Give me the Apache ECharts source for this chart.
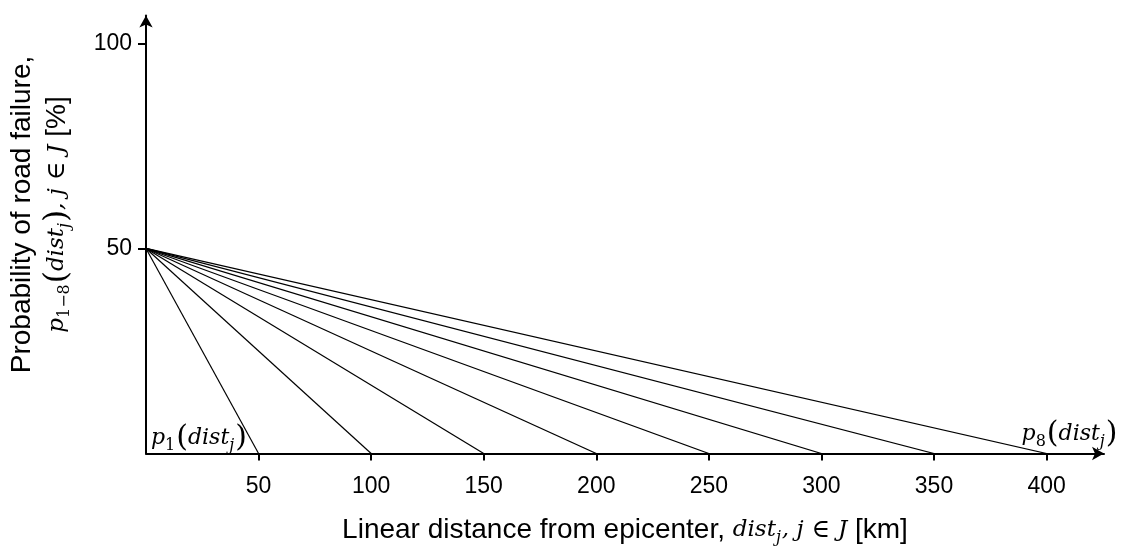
<!DOCTYPE html>
<html>
<head>
<meta charset="utf-8">
<script src="https://cdn.jsdelivr.net/npm/echarts@6/dist/echarts.min.js"></script>
<style>
  html, body { margin: 0; padding: 0; background: #fff; }
  #chart { width: 1121px; height: 547px; }
</style>
</head>
<body>
<div id="chart"></div>
<script>
// Distance (km) at which each failure-probability curve p1..p8 reaches zero
const zeroDistances = [50, 100, 150, 200, 250, 300, 350, 400];
// Probability of failure at the epicenter (%)
const probAtEpicenter = 50;
// Tick values
const xTickValues = [50, 100, 150, 200, 250, 300, 350, 400];
const yTickValues = [50, 100];
// Curve name labels, placed at the first and last curve's end
const firstCurveIndex = 1;
const lastCurveIndex = 8;

const SANS = 'Liberation Sans, Arial, sans-serif';
const SERIF = 'DejaVu Serif, serif';

// Rich-text styles: plain sans text, italic math symbols, lowered subscripts, tall parentheses
const mathRich = {
  s:   { fontFamily: SANS, fontSize: 28, color: '#000' },
  m:   { fontFamily: SERIF, fontStyle: 'italic', fontSize: 23, color: '#000' },
  op:  { fontFamily: SERIF, fontSize: 25, color: '#000' },
  sub: { fontFamily: SERIF, fontSize: 16, color: '#000', padding: [14, 1, 0, 0] },
  subi:{ fontFamily: SERIF, fontStyle: 'italic', fontSize: 16, color: '#000', padding: [14, 1, 0, 0] },
  par: { fontFamily: SERIF, fontSize: 31, color: '#000' }
};

// Curve labels use a slightly smaller math size
const labelRich = {
  m:   { fontFamily: SERIF, fontStyle: 'italic', fontSize: 22, color: '#000' },
  sub: { fontFamily: SERIF, fontSize: 16, color: '#000', padding: [14, 1, 0, 0] },
  subi:{ fontFamily: SERIF, fontStyle: 'italic', fontSize: 16, color: '#000', padding: [14, 1, 0, 0] },
  par: { fontFamily: SERIF, fontSize: 30, color: '#000' }
};

function curveLabel(k) {
  return '{m|p}{sub|' + k + '}{par|(}{m|dist}{subi|j}{par|)}';
}

const lineSeries = zeroDistances.map((d, i) => ({
  name: 'p' + (i + 1),
  type: 'line',
  data: [[0, probAtEpicenter], [d, 0]],
  symbol: 'none',
  silent: true,
  lineStyle: { color: '#000', width: 1.2 }
}));

const labelSeries = {
  type: 'scatter',
  symbolSize: 0,
  silent: true,
  data: [
    { value: [0, 0], label: { formatter: curveLabel(firstCurveIndex), position: 'right', align: 'left', verticalAlign: 'bottom', offset: [0, 0] } },
    { value: [zeroDistances[zeroDistances.length - 1], 0], label: { formatter: curveLabel(lastCurveIndex), position: 'right', align: 'left', verticalAlign: 'bottom', offset: [-30, -4] } }
  ],
  label: { show: true, color: '#000', opacity: 1, rich: labelRich }
};

const chart = echarts.init(document.getElementById('chart'));
chart.setOption({
  animation: false,
  backgroundColor: '#fff',
  grid: { left: 146, right: 17, top: 15.5, bottom: 93.5, outerBoundsMode: 'none' },
  xAxis: {
    type: 'value',
    min: 0,
    max: 425.5,
    splitLine: { show: false },
    axisLine: { show: true, symbol: ['none', 'arrow'], symbolSize: [10, 12], lineStyle: { color: '#000', width: 2 } },
    axisTick: { show: true, customValues: xTickValues, length: 7, lineStyle: { color: '#000', width: 2 } },
    axisLabel: { customValues: xTickValues, margin: 22, fontFamily: SANS, fontSize: 23, color: '#000' },
    name: '{s|Linear distance from epicenter, }{m|dist}{subi|j}{m|, j}{op| ∈ }{m|J}{s| [km]}',
    nameLocation: 'middle',
    nameGap: 62,
    nameTextStyle: { rich: mathRich }
  },
  yAxis: {
    type: 'value',
    min: 0,
    max: 106.8,
    splitLine: { show: false },
    axisLine: { show: true, symbol: ['none', 'arrow'], symbolSize: [10, 12], lineStyle: { color: '#000', width: 2 } },
    axisTick: { show: true, customValues: yTickValues, length: 8, lineStyle: { color: '#000', width: 2 } },
    axisLabel: { customValues: yTickValues, margin: 14, fontFamily: SANS, fontSize: 23, color: '#000' },
    name: '{s|Probability of road failure,}\n{m|p}{sub|1−8}{par|(}{m|dist}{subi|j}{par|)}{m|, j}{op| ∈ }{m|J}{s| [%]}',
    nameLocation: 'middle',
    nameGap: 71,
    nameTextStyle: { rich: mathRich, lineHeight: 35, padding: [0, 0, 0, 40] }
  },
  series: lineSeries.concat([labelSeries])
});
</script>
</body>
</html>
